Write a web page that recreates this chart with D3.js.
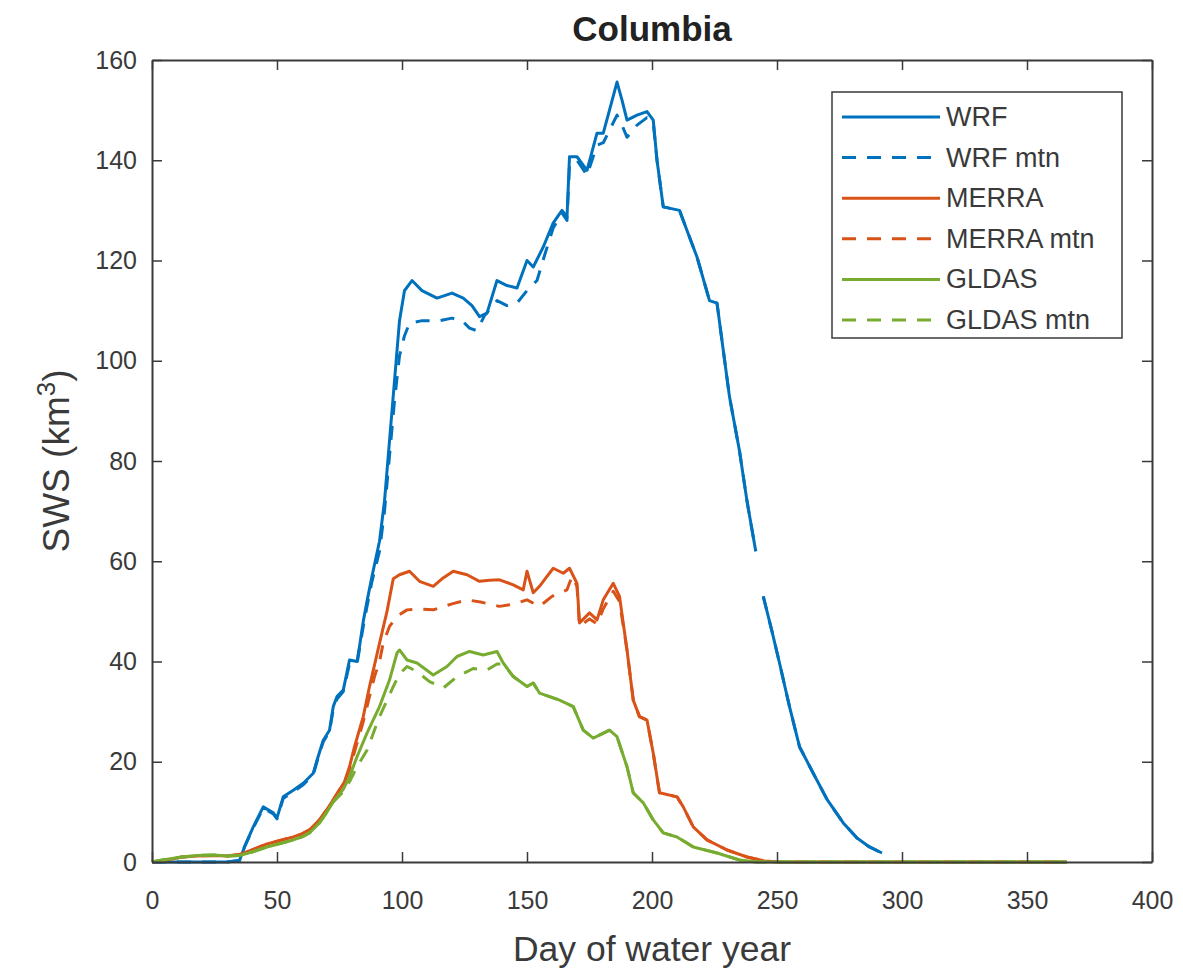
<!DOCTYPE html>
<html>
<head>
<meta charset="utf-8">
<script src="https://cdn.jsdelivr.net/npm/d3@7/dist/d3.min.js"></script>
<style>
  html, body { margin: 0; padding: 0; background: #fff; }
  svg { display: block; font-family: "Liberation Sans", Arial, Helvetica, sans-serif; }
</style>
</head>
<body>
<svg id="chart" width="1183" height="970"></svg>
<script>
// ---------- DATA (day of water year, SWS km^3) ----------
const title = "Columbia";
const xLabel = "Day of water year";
const yLabelMain = "SWS (km";
const yLabelSup = "3";
const xTicks = [0, 50, 100, 150, 200, 250, 300, 350, 400];
const yTicks = [0, 20, 40, 60, 80, 100, 120, 140, 160];
const seriesNames = ["WRF", "WRF mtn", "MERRA", "MERRA mtn", "GLDAS", "GLDAS mtn"];

const wrf = [[0,0],[10,0],[20,0],[30,0],[35,0.3],[37,3],[40.5,7],[44.5,11],[48.5,9.8],[50,8.8],[52.5,13],[56.5,14.3],[60.5,15.7],[64.5,17.7],[66,20.3],[68.5,24.3],[71,26.3],[72.5,31],[74,33],[76.5,34.3],[79,40.3],[82,40],[83,43],[84.5,48],[86,52],[88,57],[91,64],[93,72],[95,84],[97,96],[99,108],[101,114],[104,116],[108,114],[114,112.5],[120,113.5],[124.5,112.5],[128,111],[131,108.8],[134,109.5],[138,116],[142,115],[146,114.5],[150,120],[152.5,118.7],[156.5,122.7],[160.5,127.5],[164,130],[166,128.7],[167,140.7],[170,140.7],[174,138],[178,145.4],[180.5,145.4],[183,150],[186,155.6],[188,152],[190,148],[194,149],[198,149.7],[200.5,148],[202,140],[204.5,130.7],[211,130],[214,126],[218,120.7],[223,112],[226,111.5],[228,104],[231,92.8],[235,82],[238,72],[241.5,62],[243,null],[244.5,53],[248,46],[251,39.7],[255,31],[259,23],[264.5,17.7],[270,12.5],[276.5,7.8],[282,4.8],[287,3],[292,1.8]];

const wrfMtn = [[0,0],[10,0],[20,0],[30,0],[35,0.3],[37,3],[40.5,6.8],[44.5,10.7],[48.5,9.6],[50,8.6],[52.5,12.7],[56.5,14],[60.5,15.4],[64.5,17.4],[66,20],[68.5,24],[71,26],[72.5,30.5],[74,32.5],[76.5,34],[79,39.5],[82,39.5],[83,42.5],[84.5,47],[86,51],[88,56],[91,62],[93,70],[95,81],[97,92],[99,101],[101,105],[103,107.5],[108,108],[115,108],[120,108.5],[124,108],[127,106.5],[130,106],[133,109],[138,112],[142,111],[146,111.5],[150,114],[154,116],[157,121],[160.5,126.5],[164,129.5],[166,128],[167,139],[170,140],[174,137],[178,143],[180.5,143.5],[183,146],[186,149],[188,147],[190,144.6],[194,147],[198,148.5],[200.5,147.5],[202,140],[204.5,130.7],[211,130],[214,126],[218,120.7],[223,112],[226,111.5],[228,104],[231,92.8],[235,82],[238,72],[241.5,62],[243,null],[244.5,53],[248,46],[251,39.7],[255,31],[259,23],[264.5,17.7],[270,12.5],[276.5,7.8],[282,4.8],[287,3],[292,1.8]];

const merra = [[0,0],[3,0.2],[8,0.6],[12,1],[18,1.2],[25,1.3],[30,1.2],[35,1.5],[40,2.4],[46,3.6],[52,4.4],[56.5,5],[60,5.6],[63,6.4],[67,8.4],[70,10.5],[72.5,12.4],[75,14.4],[77,16],[79,19],[81,23],[84.5,29],[87,35],[91,43.6],[94,50],[96.5,56.5],[99,57.3],[103,58],[107,56],[112.5,55],[116,56.5],[120.5,58],[126,57.3],[131,56],[135,56.2],[139,56.3],[144.5,55.3],[148.5,54.3],[150,58],[152.5,53.7],[155,55],[158,57],[160.5,58.6],[164.5,57.6],[167,58.6],[170,55.6],[171,47.7],[175,49.7],[178,48.3],[180.5,52.3],[184.5,55.6],[187,53],[190,42.3],[192.5,32.3],[195,29],[198,28.3],[200.5,21.7],[203,13.8],[210,13],[212.5,11],[216.5,7],[222,4.4],[230,2.4],[238,1],[245,0.2],[250,0],[366,0]];

const merraMtn = [[0,0],[3,0.2],[8,0.6],[12,1],[18,1.2],[25,1.3],[30,1.2],[35,1.5],[40,2.4],[46,3.6],[52,4.4],[56.5,5],[60,5.6],[63,6.4],[67,8.4],[70,10.5],[72.5,12.4],[75,14.4],[77,16],[79,18.5],[81,22],[84.5,28],[87,33],[89,37],[91,40],[92.5,43.7],[95,47],[98,49],[102,50.3],[107,50.5],[112.5,50.3],[120,51.5],[126,52.3],[132,51.8],[139,51],[145,51.5],[150,52.3],[155,51],[160,53],[166,54.3],[168,57],[170,55],[171,47],[175,48.5],[178,47.5],[180.5,50.5],[184.5,54],[187,52],[190,42.3],[192.5,32.3],[195,29],[198,28.3],[200.5,21.7],[203,13.8],[210,13],[212.5,11],[216.5,7],[222,4.4],[230,2.4],[238,1],[245,0.2],[250,0],[366,0]];

const gldas = [[0,0],[3,0.3],[8,0.7],[12,1],[18,1.3],[25,1.4],[30,1.2],[35,1.3],[40,2],[46,3],[52,3.8],[56.5,4.4],[60,5],[63,5.8],[67,7.8],[70,10],[72.5,12],[76.5,14.5],[79,17],[82,21],[86,25.7],[91,31],[95,36.3],[98,41.7],[99,42.3],[102,40.3],[106,39.7],[112.5,37.3],[118,39],[122,41],[127,42],[132.5,41.3],[138,42],[140.5,39.7],[144.5,37],[150,35],[152.5,35.7],[155,33.7],[163,32.3],[168.5,31],[172.5,26.3],[176.5,24.7],[183,26.3],[186,25],[190,19],[192.5,13.8],[196.5,11.8],[200.5,8.4],[204.5,5.8],[210,5],[216.5,3],[226,1.8],[235,0.4],[242,0],[366,0]];

const gldasMtn = [[0,0],[3,0.3],[8,0.7],[12,1],[18,1.3],[25,1.4],[30,1.2],[35,1.3],[40,2],[46,3],[52,3.8],[56.5,4.4],[60,5],[63,5.8],[67,7.8],[70,10],[72.5,12],[76.5,14],[79,16],[82,19],[86,22.3],[91,29],[96.5,35],[99,37.5],[102,39],[106,38],[111,36],[116.5,34.7],[122,37],[128.5,38.6],[134,38.3],[138,39.5],[140.5,39.5],[144.5,37],[150,35],[152.5,35.7],[155,33.7],[163,32.3],[168.5,31],[172.5,26.3],[176.5,24.7],[183,26.3],[186,25],[190,19],[192.5,13.8],[196.5,11.8],[200.5,8.4],[204.5,5.8],[210,5],[216.5,3],[226,1.8],[235,0.4],[242,0],[366,0]];

const seriesData = [wrf, wrfMtn, merra, merraMtn, gldas, gldasMtn];
const seriesColors = ["#0072BD", "#0072BD", "#D95319", "#D95319", "#77AC30", "#77AC30"];
const seriesDashed = [false, true, false, true, false, true];

// ---------- LAYOUT ----------
const svg = d3.select("#chart");
const m = { left: 152, top: 60, right: 1152, bottom: 862 };
const x = d3.scaleLinear().domain([0, 400]).range([m.left, m.right]);
const y = d3.scaleLinear().domain([0, 160]).range([m.bottom, m.top]);
const axisColor = "#3a3a3a";
const textColor = "#3a3a3a";
const tickFont = 25;

// lines
const line = d3.line()
  .defined(d => d[1] !== null)
  .x(d => x(d[0]))
  .y(d => y(d[1]));

const plot = svg.append("g");
seriesData.forEach((s, i) => {
  plot.append("path")
    .datum(s)
    .attr("fill", "none")
    .attr("stroke", seriesColors[i])
    .attr("stroke-width", 3)
    .attr("stroke-linejoin", "round")
    .attr("stroke-dasharray", seriesDashed[i] ? "14,11" : null)
    .attr("d", line);
});

// axes
function styleAxis(g) {
  g.selectAll("path.domain").attr("stroke", axisColor).attr("stroke-width", 2);
  g.selectAll(".tick line").attr("stroke", axisColor).attr("stroke-width", 1.5);
  g.selectAll(".tick text").attr("fill", textColor).attr("font-size", tickFont)
    .attr("font-family", '"Liberation Sans", Arial, sans-serif');
}
svg.append("g").attr("transform", `translate(0,${m.bottom})`)
  .call(d3.axisBottom(x).tickValues(xTicks).tickSizeInner(-10).tickSizeOuter(0).tickPadding(29))
  .call(styleAxis);
svg.append("g").attr("transform", `translate(0,${m.top})`)
  .call(d3.axisTop(x).tickValues(xTicks).tickSizeInner(-10).tickSizeOuter(0).tickFormat(""))
  .call(styleAxis);
svg.append("g").attr("transform", `translate(${m.left},0)`)
  .call(d3.axisLeft(y).tickValues(yTicks).tickSizeInner(-10).tickSizeOuter(0).tickPadding(15))
  .call(styleAxis);
svg.append("g").attr("transform", `translate(${m.right},0)`)
  .call(d3.axisRight(y).tickValues(yTicks).tickSizeInner(-10).tickSizeOuter(0).tickFormat(""))
  .call(styleAxis);

// title & labels
svg.append("text").attr("x", (m.left + m.right) / 2).attr("y", 41)
  .attr("text-anchor", "middle").attr("font-size", 35).attr("font-weight", "bold")
  .attr("fill", "#222").text(title);
svg.append("text").attr("x", (m.left + m.right) / 2).attr("y", 961)
  .attr("text-anchor", "middle").attr("font-size", 35.5).attr("fill", textColor).text(xLabel);
const yl = svg.append("text")
  .attr("transform", `translate(69,${(m.top + m.bottom) / 2}) rotate(-90)`)
  .attr("text-anchor", "middle").attr("font-size", 37).attr("fill", textColor);
yl.append("tspan").text(yLabelMain);
yl.append("tspan").attr("font-size", 26).attr("dy", -14).text(yLabelSup);
yl.append("tspan").attr("dy", 14).text(")");

// legend
const lg = svg.append("g");
const lgX0 = 832, lgY0 = 92, lgW = 290, lgRow = 40.6, lgFirst = 117;
lg.append("rect").attr("x", lgX0).attr("y", lgY0).attr("width", lgW)
  .attr("height", lgFirst - lgY0 + lgRow * (seriesNames.length - 1) + 18)
  .attr("fill", "#fff").attr("stroke", axisColor).attr("stroke-width", 1.5);
seriesNames.forEach((name, i) => {
  const cy = lgFirst + i * lgRow;
  lg.append("line").attr("x1", 842).attr("x2", 940).attr("y1", cy).attr("y2", cy)
    .attr("stroke", seriesColors[i]).attr("stroke-width", 3)
    .attr("stroke-dasharray", seriesDashed[i] ? "14,11" : null);
  lg.append("text").attr("x", 946).attr("y", cy + 9).attr("font-size", 27)
    .attr("fill", textColor).text(name);
});
</script>
</body>
</html>
